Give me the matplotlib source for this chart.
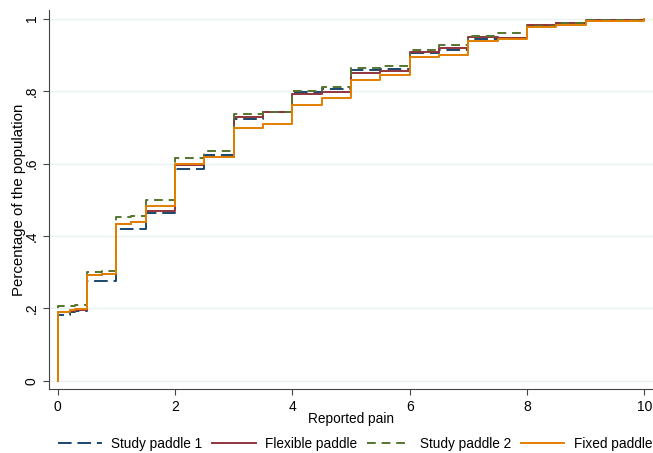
import matplotlib
matplotlib.use("Agg")
import matplotlib.pyplot as plt

plt.rcParams["font.family"] = ["Liberation Sans", "DejaVu Sans"]

# reported pain levels (step positions); first 0 is the origin of the curve
pain = [0, 0, 0.2, 0.3, 0.5, 0.75, 1, 1.25, 1.5, 2, 2.5, 3, 3.5, 4, 4.5,
        5, 5.5, 6, 6.5, 7, 7.5, 8, 8.5, 9, 10]

# cumulative share of the population per paddle type
study_paddle_1 = [0, 0.183, 0.19, 0.192, 0.276, 0.276, 0.418, 0.418, 0.462,
                  0.584, 0.623, 0.722, 0.743, 0.797, 0.805, 0.858, 0.860,
                  0.904, 0.913, 0.944, 0.946, 0.980, 0.987, 0.996, 1.0]
flexible_paddle = [0, 0.19, 0.193, 0.196, 0.292, 0.296, 0.433, 0.438, 0.470,
                   0.596, 0.619, 0.729, 0.743, 0.791, 0.798, 0.851, 0.856,
                   0.909, 0.920, 0.948, 0.946, 0.983, 0.987, 0.996, 1.0]
study_paddle_2 = [0, 0.207, 0.207, 0.21, 0.30, 0.302, 0.453, 0.455, 0.499,
                  0.614, 0.635, 0.736, 0.743, 0.800, 0.812, 0.863, 0.870,
                  0.913, 0.927, 0.952, 0.961, 0.980, 0.987, 0.996, 1.0]
fixed_paddle = [0, 0.19, 0.196, 0.199, 0.292, 0.296, 0.433, 0.438, 0.483,
                0.599, 0.619, 0.699, 0.708, 0.762, 0.780, 0.831, 0.844,
                0.893, 0.900, 0.939, 0.943, 0.976, 0.983, 0.993, 1.0]

series = [
    ("Study paddle 1", study_paddle_1, "#1a476f", (0, (7, 3))),
    ("Flexible paddle", flexible_paddle, "#90353b", "-"),
    ("Study paddle 2", study_paddle_2, "#55752f", (0, (4.5, 3))),
    ("Fixed paddle", fixed_paddle, "#e37e00", "-"),
]

fig = plt.figure(figsize=(6.53, 4.53), dpi=100)
ax = fig.add_axes([0.075, 0.141, 0.925, 0.837])

for label, values, color, style in series:
    ax.step(pain, values, where="post", color=color, linestyle=style,
            linewidth=1.4, label=label)

ax.set_xlim(-0.15, 10.15)
ax.set_ylim(-0.023, 1.024)
ax.set_xticks([0, 2, 4, 6, 8, 10])
ax.set_yticks([0, 0.2, 0.4, 0.6, 0.8, 1])
ax.set_yticklabels(["0", ".2", ".4", ".6", ".8", "1"], rotation=90, va="center")
ax.grid(axis="y", color="#eaf2f3", linewidth=1)
ax.set_axisbelow(True)

for side in ["top", "right"]:
    ax.spines[side].set_visible(False)
for side in ["left", "bottom"]:
    ax.spines[side].set_color("#444444")
ax.tick_params(direction="out", length=4, color="#444444", labelsize=10,
               labelcolor="black")

ax.set_xlabel("Reported pain", fontsize=9.8, labelpad=-1)
ax.set_ylabel("Percentage of the population", fontsize=10.8, labelpad=-1)

ax.legend(loc="upper center", bbox_to_anchor=(0.507, -0.094), ncol=4,
          frameon=False, fontsize=9.8, handlelength=3.2, columnspacing=0.7,
          handletextpad=0.7)

fig.savefig("out.png", dpi=100)
